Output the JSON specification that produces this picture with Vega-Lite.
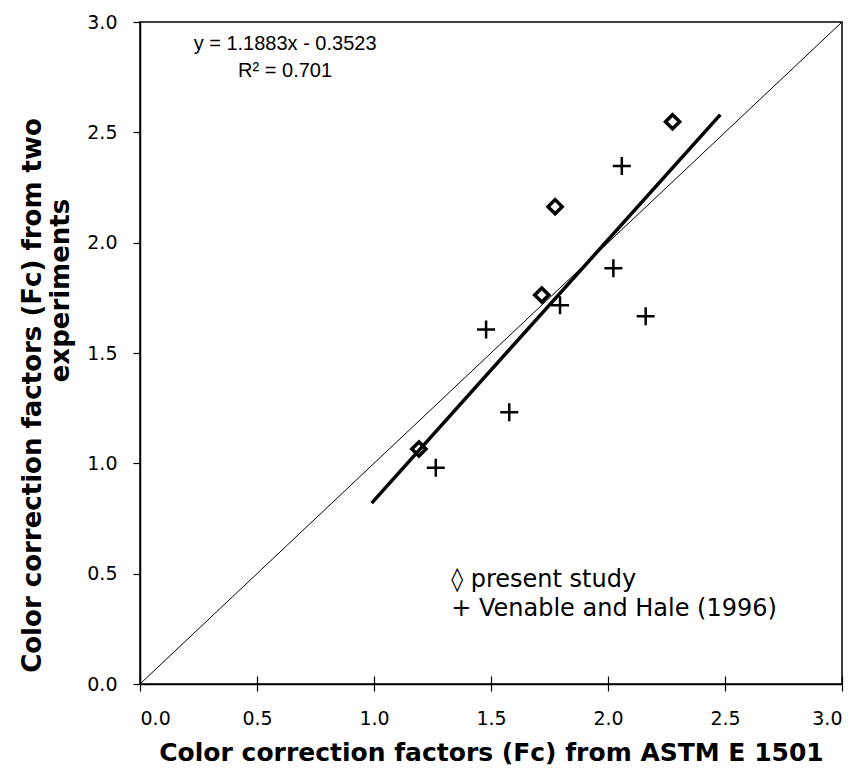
{
  "$schema": "https://vega.github.io/schema/vega-lite/v6.json",
  "width": 702,
  "height": 662,
  "autosize": "none",
  "padding": {"left": 140, "top": 22, "right": 24, "bottom": 98},
  "background": "white",
  "config": {
    "view": {"stroke": "black", "strokeWidth": 1.5},
    "font": "Liberation Sans"
  },
  "datasets": {
    "points": [
      {"x": 1.192, "y": 1.065, "series": "present study"},
      {"x": 1.717, "y": 1.763, "series": "present study"},
      {"x": 1.774, "y": 2.163, "series": "present study"},
      {"x": 2.276, "y": 2.548, "series": "present study"},
      {"x": 2.059, "y": 2.347, "series": "Venable and Hale (1996)"},
      {"x": 2.023, "y": 1.884, "series": "Venable and Hale (1996)"},
      {"x": 1.795, "y": 1.716, "series": "Venable and Hale (1996)"},
      {"x": 2.161, "y": 1.667, "series": "Venable and Hale (1996)"},
      {"x": 1.479, "y": 1.607, "series": "Venable and Hale (1996)"},
      {"x": 1.578, "y": 1.231, "series": "Venable and Hale (1996)"},
      {"x": 1.264, "y": 0.98, "series": "Venable and Hale (1996)"}
    ],
    "identity": [{"x": 0, "y": 0}, {"x": 3, "y": 3}],
    "fit": [{"x": 0.99, "y": 0.82}, {"x": 2.48, "y": 2.58}],
    "notes": [
      {"x": 0.62, "y": 2.9, "label": "y = 1.1883x - 0.3523"},
      {"x": 0.62, "y": 2.78, "label": "R² = 0.701"}
    ],
    "legend": [
      {"x": 1.33, "y": 0.47, "label": "◊ present study"},
      {"x": 1.33, "y": 0.34, "label": "+ Venable and Hale (1996)"}
    ]
  },
  "encoding": {
    "x": {
      "field": "x", "type": "quantitative",
      "scale": {"domain": [0, 3], "nice": false, "zero": false},
      "axis": {
        "values": [0, 0.5, 1, 1.5, 2, 2.5, 3],
        "format": ".1f",
        "grid": false,
        "title": "Color correction factors (Fc) from ASTM E 1501",
        "titleFont": "DejaVu Sans", "titleFontSize": 25, "titleFontWeight": "bold", "titleColor": "black",
        "titlePadding": 12,
        "labelFont": "DejaVu Sans", "labelFontSize": 19, "labelColor": "black", "labelPadding": 18,
        "domainColor": "black", "domainWidth": 1.5,
        "tickColor": "black", "tickSize": 7, "tickWidth": 1.2
      }
    },
    "y": {
      "field": "y", "type": "quantitative",
      "scale": {"domain": [0, 3], "nice": false, "zero": false},
      "axis": {
        "orient": "left",
        "values": [0, 0.5, 1, 1.5, 2, 2.5, 3],
        "format": ".1f",
        "grid": false,
        "title": "Color correction factors (Fc) from two",
        "titleFont": "DejaVu Sans", "titleFontSize": 26, "titleFontWeight": "bold", "titleColor": "black",
        "titleX": -108, "titleY": 373, "titleAngle": -90, "titleAlign": "center", "titleBaseline": "middle",
        "labelFont": "DejaVu Sans", "labelFontSize": 19, "labelColor": "black", "labelPadding": 16,
        "domainColor": "black", "domainWidth": 1.5,
        "tickColor": "black", "tickSize": 7, "tickWidth": 1.2
      }
    }
  },
  "layer": [
    {
      "layer": [
        {
          "data": {"name": "fit"},
          "mark": {"type": "line", "color": "black", "strokeWidth": 3.5}
        },
        {
          "data": {"name": "points"},
          "transform": [{"filter": "datum.series === 'present study'"}],
          "mark": {"type": "point", "shape": "diamond", "filled": false, "color": "black", "strokeWidth": 3.5, "size": 200, "opacity": 1}
        },
        {
          "data": {"name": "points"},
          "transform": [{"filter": "datum.series !== 'present study'"}],
          "mark": {"type": "point", "shape": "M-1,0L1,0M0,-1L0,1", "filled": false, "color": "black", "strokeWidth": 2.5, "size": 324, "opacity": 1}
        },
        {
          "data": {"name": "notes"},
          "mark": {"type": "text", "fontSize": 20, "align": "center", "baseline": "middle", "color": "black"},
          "encoding": {"text": {"field": "label"}}
        },
        {
          "data": {"name": "legend"},
          "mark": {"type": "text", "font": "DejaVu Sans", "fontSize": 24, "align": "left", "baseline": "middle", "color": "black"},
          "encoding": {"text": {"field": "label"}}
        }
      ]
    },
    {
      "data": {"name": "identity"},
      "mark": {"type": "line", "color": "black", "strokeWidth": 1},
      "encoding": {
        "x": {
          "field": "x", "type": "quantitative",
          "scale": {"domain": [0, 3], "nice": false, "zero": false},
          "axis": {
            "orient": "bottom",
            "values": [0, 0.5, 1, 1.5, 2, 2.5, 3],
            "labels": false, "domain": false, "grid": false, "title": null,
            "ticks": true, "tickColor": "black", "tickSize": -8, "tickWidth": 1.2
          }
        },
        "y": {
          "field": "y", "type": "quantitative",
          "scale": {"domain": [0, 3], "nice": false, "zero": false},
          "axis": {
            "orient": "left",
            "labels": false, "ticks": false, "domain": false, "grid": false,
            "title": "experiments",
            "titleFont": "DejaVu Sans", "titleFontSize": 26, "titleFontWeight": "bold", "titleColor": "black",
            "titleX": -80, "titleY": 268, "titleAngle": -90, "titleAlign": "center", "titleBaseline": "middle"
          }
        }
      }
    }
  ],
  "resolve": {"axis": {"x": "independent", "y": "independent"}}
}
